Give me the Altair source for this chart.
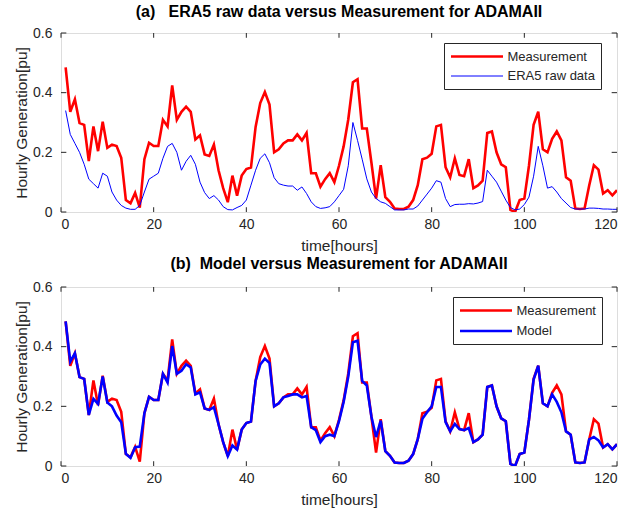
import altair as alt
import pandas as pd

hours = list(range(1, 121))

measurement = [
    0.485, 0.336, 0.378, 0.298, 0.292, 0.171, 0.287, 0.204, 0.303, 0.215,
    0.226, 0.221, 0.182, 0.040, 0.029, 0.064, 0.015, 0.177, 0.232, 0.221,
    0.221, 0.309, 0.287, 0.424, 0.309, 0.336, 0.353, 0.336, 0.243, 0.257,
    0.193, 0.188, 0.226, 0.140, 0.080, 0.033, 0.122, 0.055, 0.122, 0.144,
    0.149, 0.285, 0.365, 0.402, 0.360, 0.200, 0.210, 0.230, 0.240, 0.240,
    0.260, 0.240, 0.265, 0.130, 0.130, 0.085, 0.110, 0.130, 0.100, 0.155,
    0.220, 0.310, 0.435, 0.445, 0.280, 0.280, 0.165, 0.045, 0.157, 0.050,
    0.034, 0.012, 0.010, 0.010, 0.018, 0.040, 0.090, 0.177, 0.182, 0.195,
    0.287, 0.292, 0.150, 0.116, 0.180, 0.124, 0.120, 0.177, 0.080, 0.089,
    0.105, 0.265, 0.270, 0.200, 0.160, 0.150, 0.007, 0.000, 0.040, 0.045,
    0.155, 0.292, 0.336, 0.210, 0.200, 0.245, 0.270, 0.240, 0.116, 0.105,
    0.012, 0.010, 0.012, 0.089, 0.157, 0.142, 0.062, 0.073, 0.056, 0.073,
]

era5 = [
    0.340, 0.260, 0.230, 0.200, 0.160, 0.110, 0.095, 0.080, 0.130, 0.120,
    0.067, 0.040, 0.022, 0.013, 0.009, 0.009, 0.022, 0.067, 0.110, 0.120,
    0.130, 0.180, 0.220, 0.230, 0.200, 0.140, 0.170, 0.190, 0.160, 0.100,
    0.065, 0.045, 0.055, 0.040, 0.018, 0.008, 0.007, 0.015, 0.022, 0.040,
    0.090, 0.140, 0.180, 0.195, 0.165, 0.115, 0.095, 0.090, 0.087, 0.087,
    0.073, 0.084, 0.062, 0.034, 0.018, 0.012, 0.014, 0.018, 0.034, 0.055,
    0.076, 0.155, 0.300, 0.240, 0.177, 0.111, 0.067, 0.045, 0.034, 0.029,
    0.018, 0.007, 0.007, 0.007, 0.010, 0.010, 0.020, 0.040, 0.060, 0.080,
    0.105, 0.100, 0.045, 0.018, 0.025, 0.026, 0.026, 0.028, 0.027, 0.030,
    0.035, 0.140, 0.120, 0.100, 0.070, 0.040, 0.015, 0.007, 0.010, 0.025,
    0.050, 0.120, 0.220, 0.155, 0.080, 0.085, 0.067, 0.045, 0.030, 0.015,
    0.010, 0.010, 0.010, 0.013, 0.013, 0.012, 0.010, 0.010, 0.009, 0.009,
]

model = [
    0.485, 0.350, 0.378, 0.298, 0.292, 0.171, 0.225, 0.208, 0.300, 0.213,
    0.200, 0.169, 0.147, 0.041, 0.027, 0.063, 0.065, 0.177, 0.232, 0.221,
    0.221, 0.309, 0.280, 0.402, 0.309, 0.319, 0.341, 0.330, 0.240, 0.247,
    0.193, 0.188, 0.197, 0.140, 0.080, 0.033, 0.069, 0.055, 0.122, 0.144,
    0.149, 0.285, 0.340, 0.360, 0.345, 0.200, 0.210, 0.230, 0.235, 0.240,
    0.240, 0.230, 0.235, 0.130, 0.120, 0.080, 0.100, 0.105, 0.100, 0.150,
    0.215, 0.300, 0.415, 0.420, 0.285, 0.270, 0.165, 0.097, 0.152, 0.050,
    0.034, 0.012, 0.010, 0.010, 0.018, 0.040, 0.090, 0.158, 0.180, 0.200,
    0.265, 0.265, 0.147, 0.116, 0.141, 0.124, 0.120, 0.127, 0.080, 0.089,
    0.105, 0.265, 0.270, 0.200, 0.160, 0.150, 0.007, 0.000, 0.040, 0.045,
    0.155, 0.290, 0.336, 0.210, 0.200, 0.240, 0.215, 0.180, 0.116, 0.105,
    0.012, 0.010, 0.012, 0.089, 0.097, 0.086, 0.062, 0.073, 0.056, 0.073,
]

x_ticks = [0, 20, 40, 60, 80, 100, 120]
y_ticks = [0, 0.2, 0.4, 0.6]

title_a = "(a)\u00a0\u00a0 ERA5 raw data versus Measurement for ADAMAII"
title_b = "(b)\u00a0 Model versus Measurement for ADAMAII"

FONT = "Liberation Sans"
RED = "#ff0000"
BLUE = "#0000ff"
W, H = 556, 179

df_a = pd.DataFrame({
    "t": hours * 2,
    "v": measurement + era5,
    "s": ["Measurement"] * 120 + ["ERA5 raw data"] * 120,
    "o": [0] * 120 + [1] * 120,
})
df_b = pd.DataFrame({
    "t": hours * 2,
    "v": measurement + model,
    "s": ["Measurement"] * 120 + ["Model"] * 120,
    "o": [0] * 120 + [1] * 120,
})

# inward tick marks (MATLAB style), positioned from the tick arrays
xt = pd.DataFrame({"x": x_ticks * 2,
                   "y": [0.0] * 7 + [0.6] * 7,
                   "y2": [0.016] * 7 + [0.584] * 7})
yt = pd.DataFrame({"y": y_ticks * 2,
                   "x": [0.0] * 4 + [120.0] * 4,
                   "x2": [1.15] * 4 + [118.85] * 4})

xscale = alt.Scale(domain=[0, 120], nice=False, zero=False)
yscale = alt.Scale(domain=[0, 0.6], nice=False)

xaxis = alt.Axis(values=x_ticks, title="time[hours]", grid=False, ticks=False,
                 domain=False, labelFontSize=14, labelFont=FONT, labelColor="#262626",
                 titleFont=FONT, titleFontSize=15.5, titleFontWeight="normal",
                 titleColor="#262626", labelPadding=5, titlePadding=7)
yaxis = alt.Axis(values=y_ticks, title="Hourly Generation[pu]", grid=False, ticks=False,
                 domain=False, format=".1~f", labelFontSize=14, labelFont=FONT,
                 labelColor="#262626", titleFont=FONT, titleFontSize=15.5,
                 titleFontWeight="normal", titleColor="#262626", labelPadding=9,
                 titlePadding=3)

# legend line sample: custom path, 52 px long at symbolSize 169
LEG_PATH = "M-1,0L7,0"


def legend(xpos, stroke_w=None):
    kw = dict(title=None, orient="none", legendX=xpos, legendY=10,
              strokeColor="#262626", fillColor="white", padding=5.5,
              labelFont=FONT, labelFontSize=13, labelColor="#262626",
              symbolType=LEG_PATH, symbolSize=169, rowPadding=5.5,
              labelOffset=42, cornerRadius=0)
    if stroke_w is not None:
        kw["symbolStrokeWidth"] = stroke_w
    return alt.Legend(**kw)


def tick_layers():
    tx = alt.Chart(xt).mark_rule(color="#262626", strokeWidth=1).encode(
        x=alt.X("x:Q", scale=xscale, axis=xaxis),
        y=alt.Y("y:Q", scale=yscale, axis=yaxis),
        y2="y2:Q")
    ty = alt.Chart(yt).mark_rule(color="#262626", strokeWidth=1).encode(
        x=alt.X("x:Q", scale=xscale), x2="x2:Q",
        y=alt.Y("y:Q", scale=yscale))
    return tx, ty


# panel (a)
dom_a = ["Measurement", "ERA5 raw data"]
lines_a = alt.Chart(df_a).mark_line(clip=True).encode(
    x=alt.X("t:Q", scale=xscale, axis=xaxis),
    y=alt.Y("v:Q", scale=yscale, axis=yaxis),
    color=alt.Color("s:N", scale=alt.Scale(domain=dom_a, range=[RED, BLUE]),
                    legend=legend(383)),
    strokeWidth=alt.StrokeWidth("s:N", scale=alt.Scale(domain=dom_a, range=[2.6, 1.0]),
                                legend=legend(383)),
    order="o:Q",
)
tx_a, ty_a = tick_layers()
panel_a = alt.layer(lines_a, tx_a, ty_a).properties(
    width=W, height=H,
    title=alt.TitleParams(title_a, font=FONT, fontSize=16, fontWeight="bold",
                          color="black", anchor="middle", offset=6),
)

# panel (b)
dom_b = ["Measurement", "Model"]
lines_b = alt.Chart(df_b).mark_line(clip=True, strokeWidth=2.6).encode(
    x=alt.X("t:Q", scale=xscale, axis=xaxis),
    y=alt.Y("v:Q", scale=yscale, axis=yaxis),
    color=alt.Color("s:N", scale=alt.Scale(domain=dom_b, range=[RED, BLUE]),
                    legend=legend(392, 2.6)),
    order="o:Q",
)
tx_b, ty_b = tick_layers()
panel_b = alt.layer(lines_b, tx_b, ty_b).properties(
    width=W, height=H,
    title=alt.TitleParams(title_b, font=FONT, fontSize=16, fontWeight="bold",
                          color="black", anchor="middle", offset=8),
)

chart = alt.vconcat(panel_a, panel_b, spacing=1).resolve_scale(
    color="independent", strokeWidth="independent"
).resolve_legend(color="independent", strokeWidth="independent").properties(
    padding={"left": 14, "top": 3, "right": 5, "bottom": 5}
).configure_view(stroke="#262626", strokeWidth=1).configure(background="white")

chart.save("out.html", embed_options={"renderer": "svg", "actions": False})
